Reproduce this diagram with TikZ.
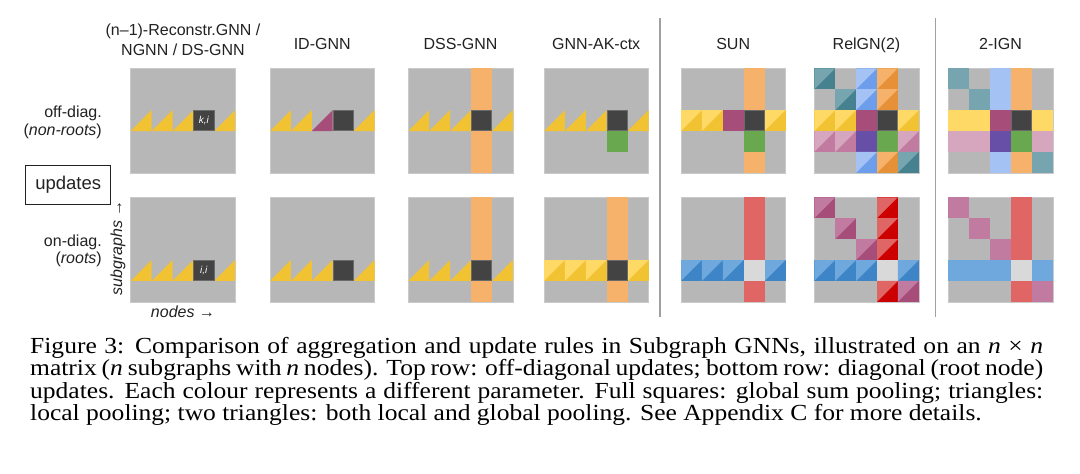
\documentclass[tikz,border=0pt]{standalone}
\usepackage{fontspec}
\setmainfont{Liberation Serif}
\newfontfamily\arial{Liberation Sans}
\newfontfamily\capfont[FakeStretch=1.11]{Liberation Serif}
\definecolor{cgray}{HTML}{B7B7B7}
\definecolor{cgrayedge}{HTML}{CACACA}
\definecolor{cdark}{HTML}{434343}
\definecolor{cdarkedge}{HTML}{6A6A6A}
\definecolor{cyel}{HTML}{F1C232}
\definecolor{cyelL}{HTML}{FFD966}
\definecolor{corg}{HTML}{F6B26B}
\definecolor{corgD}{HTML}{E69138}
\definecolor{cpurp}{HTML}{A64D79}
\definecolor{cgreen}{HTML}{6AA84F}
\definecolor{cred}{HTML}{E06666}
\definecolor{credD}{HTML}{CC0000}
\definecolor{cbL}{HTML}{6FA8DC}
\definecolor{cbD}{HTML}{3D85C6}
\definecolor{clgray}{HTML}{D9D9D9}
\definecolor{ctealL}{HTML}{76A5AF}
\definecolor{ctealD}{HTML}{45818E}
\definecolor{cblueL}{HTML}{A4C2F4}
\definecolor{cblueD}{HTML}{6D9EEB}
\definecolor{cpinkL}{HTML}{D5A6BD}
\definecolor{cpinkD}{HTML}{C27BA0}
\definecolor{cviol}{HTML}{674EA7}
\definecolor{cmagL}{HTML}{C27BA0}
\definecolor{cmagD}{HTML}{A64D79}
\definecolor{csep}{HTML}{A0A0A0}
\definecolor{ctext}{HTML}{222222}
\newcommand\Bg{\fill[cgray,draw=cgrayedge,line width=0.6pt] (0,0) rectangle (5,5);}
\newcommand\Sq[3]{\fill[#3] (#1,#2) rectangle ++(1,1);}
\newcommand\Col[2]{\fill[#2] (#1,0) rectangle (#1+1,5);}
\newcommand\Tri[3]{\fill[#3] (#1,#2+1) -- ++(1,0) -- ++(0,-1) -- cycle;}
\newcommand\TT[4]{\fill[#4] (#1,#2) rectangle ++(1,1); \fill[#3] (#1,#2) -- ++(1,0) -- ++(-1,1) -- cycle;}
\newcommand\Dk[2]{\fill[cdark,draw=cdarkedge,line width=0.7pt] (#1+0.02,#2+0.02) rectangle (#1+0.98,#2+0.98);}
\newcommand\nn{\textit{n}}
\tikzset{
  lab/.style={font=\arial\fontsize{16}{18}\selectfont, text=ctext, inner sep=0pt},
  captext/.style={font=\capfont\fontsize{23}{22}\selectfont, text=black, inner sep=0pt, anchor=base west},
  mat/.style 2 args={shift={(#1pt,-#2pt)}, x=20.9pt, y=-20.9pt},
  sepline/.style={draw=csep, line width=1.1pt},
  cellab/.style={font=\arial\itshape\fontsize{10}{12}\selectfont, text=white, inner sep=0pt},
  updbox/.style={draw=ctext, line width=0.8pt, minimum width=85pt, minimum height=39pt, inner sep=0pt, font=\arial\fontsize{18.5}{20}\selectfont, text=ctext}
}
\begin{document}
\begin{tikzpicture}[x=1pt,y=-1pt]
\useasboundingbox (0,0) rectangle (1080,474);
\fill[white] (0,0) rectangle (1080,474);

% titles
\node[lab, anchor=base] (t1a) at (183,35) {(n–1)-Reconstr.GNN /};
\node[lab, anchor=base] (t1b) at (183,55) {NGNN / DS-GNN};
\node[lab, anchor=base] (t2) at (322.2,49) {ID-GNN};
\node[lab, anchor=base] (t3) at (460.5,49) {DSS-GNN};
\node[lab, anchor=base] (t4) at (596.2,49) {GNN-AK-ctx};
\node[lab, anchor=base] (t5) at (733.2,49) {SUN};
\node[lab, anchor=base] (t6) at (866.5,49) {RelGN(2)};
\node[lab, anchor=base] (t7) at (1000.5,49) {2-IGN};

% row labels
\node[lab, anchor=base east] (r1a) at (102,117.5) {off-diag.};
\node[lab, anchor=base east] (r1b) at (102,135) {(\textit{non-roots})};
\node[updbox] (upd) at (68.2,184.6) {updates};
\node[lab, anchor=base east] (r2a) at (102,246) {on-diag.};
\node[lab, anchor=base east] (r2b) at (102,263.5) {(\textit{roots})};
\node[lab, rotate=90, font=\arial\itshape\fontsize{16}{18}\selectfont] (sg) at (118,248) {subgraphs →};
\node[lab, font=\arial\itshape\fontsize{16}{18}\selectfont] (nd) at (183,312) {nodes →};

% separators
\coordinate (s1a) at (660,18); \coordinate (s1b) at (660,317);
\coordinate (s2a) at (935.5,18); \coordinate (s2b) at (935.5,317);
\draw[sepline] (s1a) -- (s1b);
\draw[sepline] (s2a) -- (s2b);

% 1: Reconstr / NGNN / DS-GNN
\begin{scope}[mat={130.7}{68.3}]
\Bg \Tri{0}{2}{cyel}\Tri{1}{2}{cyel}\Tri{2}{2}{cyel}\Tri{4}{2}{cyel}\Dk{3}{2}
\node[cellab] (ki) at (3.5,2.5) {k,i};
\end{scope}
\begin{scope}[mat={130.7}{197.3}]
\Bg \Tri{0}{3}{cyel}\Tri{1}{3}{cyel}\Tri{2}{3}{cyel}\Tri{4}{3}{cyel}\Dk{3}{3}
\node[cellab] (ii) at (3.5,3.5) {i,i};
\end{scope}
% 2: ID-GNN
\begin{scope}[mat={270}{68.3}]
\Bg \Tri{0}{2}{cyel}\Tri{1}{2}{cyel}\Tri{2}{2}{cpurp}\Tri{4}{2}{cyel}\Dk{3}{2}
\end{scope}
\begin{scope}[mat={270}{197.3}]
\Bg \Tri{0}{3}{cyel}\Tri{1}{3}{cyel}\Tri{2}{3}{cyel}\Tri{4}{3}{cyel}\Dk{3}{3}
\end{scope}
% 3: DSS-GNN
\begin{scope}[mat={408.3}{68.3}]
\Bg \Col{3}{corg}\Tri{0}{2}{cyel}\Tri{1}{2}{cyel}\Tri{2}{2}{cyel}\Tri{4}{2}{cyel}\Dk{3}{2}
\end{scope}
\begin{scope}[mat={408.3}{197.3}]
\Bg \Col{3}{corg}\Tri{0}{3}{cyel}\Tri{1}{3}{cyel}\Tri{2}{3}{cyel}\Tri{4}{3}{cyel}\Dk{3}{3}
\end{scope}
% 4: GNN-AK-ctx
\begin{scope}[mat={544}{68.3}]
\Bg \Tri{0}{2}{cyel}\Tri{1}{2}{cyel}\Tri{2}{2}{cyel}\Tri{4}{2}{cyel}\Dk{3}{2}\Sq{3}{3}{cgreen}
\end{scope}
\begin{scope}[mat={544}{197.3}]
\Bg \Col{3}{corg}\TT{0}{3}{cyelL}{cyel}\TT{1}{3}{cyelL}{cyel}\TT{2}{3}{cyelL}{cyel}\TT{4}{3}{cyelL}{cyel}\Dk{3}{3}
\end{scope}
% 5: SUN
\begin{scope}[mat={681}{68.3}]
\Bg \Col{3}{corg}\TT{0}{2}{cyelL}{cyel}\TT{1}{2}{cyelL}{cyel}\Sq{2}{2}{cpurp}\TT{4}{2}{cyelL}{cyel}\Dk{3}{2}\Sq{3}{3}{cgreen}
\end{scope}
\begin{scope}[mat={681}{197.3}]
\Bg \Col{3}{cred}\TT{0}{3}{cbL}{cbD}\TT{1}{3}{cbL}{cbD}\TT{2}{3}{cbL}{cbD}\TT{4}{3}{cbL}{cbD}\Sq{3}{3}{clgray}
\end{scope}
% 6: RelGN(2)
\begin{scope}[mat={814.3}{68.3}]
\Bg
\TT{0}{0}{ctealL}{ctealD}\TT{2}{0}{cblueL}{cblueD}\TT{3}{0}{corg}{corgD}
\TT{1}{1}{ctealL}{ctealD}\TT{2}{1}{cblueL}{cblueD}\TT{3}{1}{corg}{corgD}
\TT{0}{2}{cyelL}{cyel}\TT{1}{2}{cyelL}{cyel}\Sq{2}{2}{cpurp}\Dk{3}{2}\TT{4}{2}{cyelL}{cyel}
\TT{0}{3}{cpinkL}{cpinkD}\TT{1}{3}{cpinkL}{cpinkD}\Sq{2}{3}{cviol}\Sq{3}{3}{cgreen}\TT{4}{3}{cpinkL}{cpinkD}
\TT{2}{4}{cblueL}{cblueD}\TT{3}{4}{corg}{corgD}\TT{4}{4}{ctealL}{ctealD}
\end{scope}
\begin{scope}[mat={814.3}{197.3}]
\Bg
\TT{0}{0}{cmagL}{cmagD}\TT{3}{0}{cred}{credD}
\TT{1}{1}{cmagL}{cmagD}\TT{3}{1}{cred}{credD}
\TT{2}{2}{cmagL}{cmagD}\TT{3}{2}{cred}{credD}
\TT{0}{3}{cbL}{cbD}\TT{1}{3}{cbL}{cbD}\TT{2}{3}{cbL}{cbD}\Sq{3}{3}{clgray}\TT{4}{3}{cbL}{cbD}
\TT{3}{4}{cred}{credD}\TT{4}{4}{cmagL}{cmagD}
\end{scope}
% 7: 2-IGN
\begin{scope}[mat={948.3}{68.3}]
\Bg
\Sq{0}{0}{ctealL}\Sq{2}{0}{cblueL}\Sq{3}{0}{corg}
\Sq{1}{1}{ctealL}\Sq{2}{1}{cblueL}\Sq{3}{1}{corg}
\Sq{0}{2}{cyelL}\Sq{1}{2}{cyelL}\Sq{2}{2}{cpurp}\Dk{3}{2}\Sq{4}{2}{cyelL}
\Sq{0}{3}{cpinkL}\Sq{1}{3}{cpinkL}\Sq{2}{3}{cviol}\Sq{3}{3}{cgreen}\Sq{4}{3}{cpinkL}
\Sq{2}{4}{cblueL}\Sq{3}{4}{corg}\Sq{4}{4}{ctealL}
\end{scope}
\begin{scope}[mat={948.3}{197.3}]
\Bg
\Sq{0}{0}{cmagL}\Sq{1}{1}{cmagL}\Sq{2}{2}{cmagL}
\Col{3}{cred}
\Sq{0}{3}{cbL}\Sq{1}{3}{cbL}\Sq{2}{3}{cbL}\Sq{3}{3}{clgray}\Sq{4}{3}{cbL}
\Sq{4}{4}{cmagL}
\end{scope}

% caption
\node[captext] (c1) at (30,353) {\makebox[1013pt][s]{Figure 3: Comparison of aggregation and update rules in Subgraph GNNs, illustrated on an \nn{} × \nn}};
\node[captext] (c2) at (30,375.5) {\makebox[1013pt][s]{matrix (\nn{} subgraphs with \nn{} nodes). Top row: off-diagonal updates; bottom row: diagonal (root node)}};
\node[captext] (c3) at (30,398) {\makebox[1013pt][s]{updates. Each colour represents a different parameter. Full squares: global sum pooling; triangles:}};
\node[captext] (c4) at (30,420.5) {local pooling; two triangles: both local and global pooling. See Appendix C for more details.};
\end{tikzpicture}
\end{document}
